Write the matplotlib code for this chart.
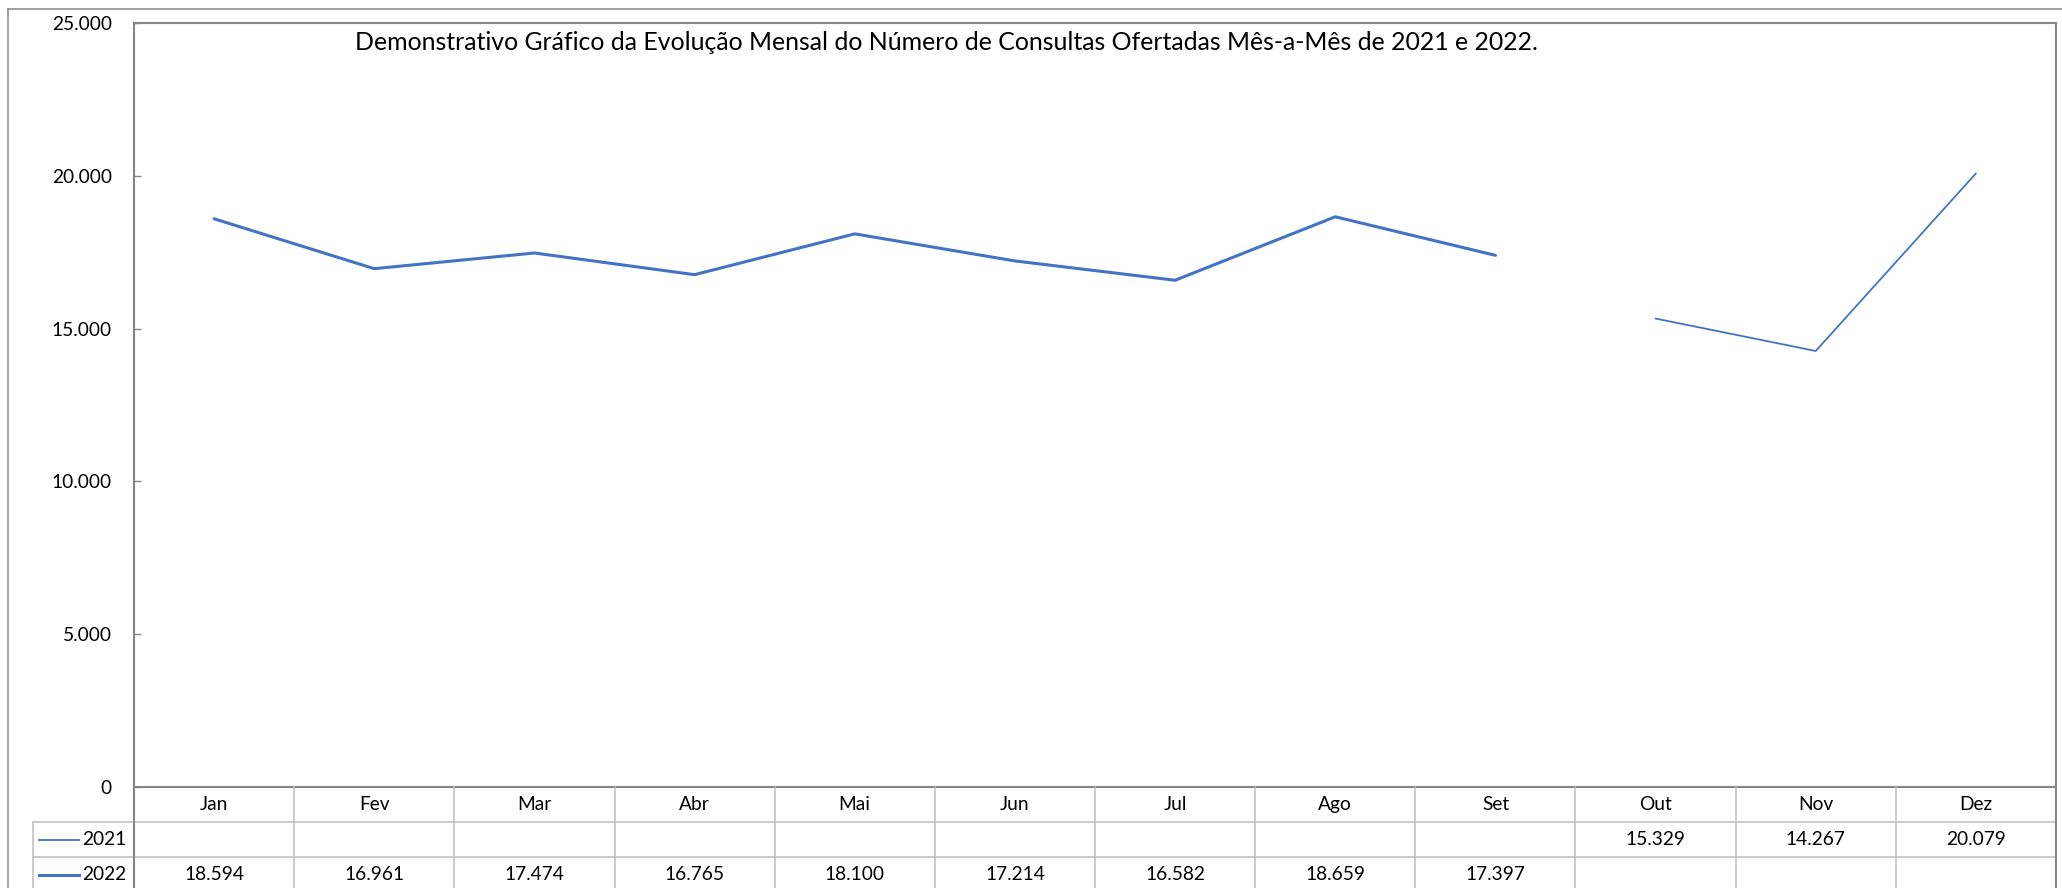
import matplotlib
matplotlib.use("Agg")
import matplotlib.pyplot as plt
import numpy as np
from matplotlib.lines import Line2D
from matplotlib.ticker import FuncFormatter

# ---------------- data ----------------
months = ["Jan", "Fev", "Mar", "Abr", "Mai", "Jun", "Jul", "Ago", "Set", "Out", "Nov", "Dez"]
series_names = ["2021", "2022"]
values_2021 = [None, None, None, None, None, None, None, None, None, 15329, 14267, 20079]
values_2022 = [18594, 16961, 17474, 16765, 18100, 17214, 16582, 18659, 17397, None, None, None]
y_ticks = [0, 5000, 10000, 15000, 20000, 25000]
title = "Demonstrativo Gráfico da Evolução Mensal do Número de Consultas Ofertadas Mês-a-Mês de 2021 e 2022."

# ---------------- style ----------------
plt.rcParams['font.family'] = ['Lato', 'DejaVu Sans']
BLUE = '#4472C4'
DARK = '#868686'
LIGHT = '#BFBFBF'
W, H = 2062, 888
FS = 13.8

def fx(px):
    return px / W

def fy(py):
    return 1 - py / H

def fmt(v):
    return f"{int(round(v)):,}".replace(",", ".")

fig = plt.figure(figsize=(W / 100, H / 100), dpi=100)
fig.patch.set_facecolor('white')

# outer chart border (top & left visible)
fig.add_artist(Line2D([fx(8), fx(8)], [fy(9), 0], transform=fig.transFigure, color=DARK, lw=1.1))
fig.add_artist(Line2D([fx(8), 1], [fy(9), fy(9)], transform=fig.transFigure, color=DARK, lw=1.1))

L, R, T, B = 134, 2056, 23, 787
ax = fig.add_axes([fx(L), fy(B), (R - L) / W, (B - T) / H])
x = np.arange(len(months))
y21 = np.array([np.nan if v is None else v for v in values_2021], float)
y22 = np.array([np.nan if v is None else v for v in values_2022], float)
lw_map = {"2021": 1.3, "2022": 2.2}
ax.plot(x, y22, color=BLUE, lw=lw_map["2022"], solid_joinstyle='round', solid_capstyle='round')
ax.plot(x, y21, color=BLUE, lw=lw_map["2021"], solid_joinstyle='round', solid_capstyle='round')
ax.set_xlim(-0.5, len(months) - 0.5)
ax.set_ylim(y_ticks[0], y_ticks[-1])
ax.set_yticks(y_ticks)
ax.yaxis.set_major_formatter(FuncFormatter(lambda v, p: fmt(v)))
ax.set_xticks([])
ax.tick_params(axis='y', direction='in', length=5, width=1, color=DARK, labelsize=FS, pad=16)
for s in ax.spines.values():
    s.set_color(DARK)
    s.set_linewidth(1.5)

# ---------------- data table ----------------
TB = 892
tax = fig.add_axes([fx(L), fy(TB), (R - L) / W, (TB - B) / H])
tax.set_xlim(-0.5, len(months) - 0.5)
tax.set_ylim(3, 0)
tax.axis('off')
col_w = (R - L) / len(months)
label_left = -0.5 - (L - 33) / col_w
key_x0 = -0.5 - (L - 39) / col_w
key_x1 = -0.5 - (L - 79) / col_w
text_x = -0.5 - (L - 82) / col_w

kw = dict(clip_on=False)
for r in (1, 2):
    tax.plot([label_left, len(months) - 0.5], [r, r], color=LIGHT, lw=1.1, **kw)
tax.plot([label_left, label_left], [1, 3], color=LIGHT, lw=1.1, **kw)
for k in range(len(months) - 1):
    tax.plot([k + 0.5, k + 0.5], [0, 3], color=LIGHT, lw=1.1, **kw)
tax.plot([-0.5, -0.5], [0, 3], color=DARK, lw=1.5, **kw)
tax.plot([len(months) - 0.5] * 2, [0, 3], color=DARK, lw=1.5, **kw)

for i, m in enumerate(months):
    tax.text(i, 0.5, m, ha='center', va='center', fontsize=FS, **kw)

rows = [("2021", values_2021), ("2022", values_2022)]
for ri, (name, vals) in enumerate(rows):
    yc = 1.5 + ri
    tax.plot([key_x0, key_x1], [yc, yc], color=BLUE, lw=lw_map[name], **kw)
    tax.text(text_x, yc, name, ha='left', va='center', fontsize=FS, **kw)
    for i, v in enumerate(vals):
        if v is not None:
            tax.text(i, yc, fmt(v), ha='center', va='center', fontsize=FS, **kw)

fig.text(fx(946), fy(43), title, ha='center', va='center', fontsize=17.9)

fig.savefig("out.png", dpi=100, facecolor='white')
